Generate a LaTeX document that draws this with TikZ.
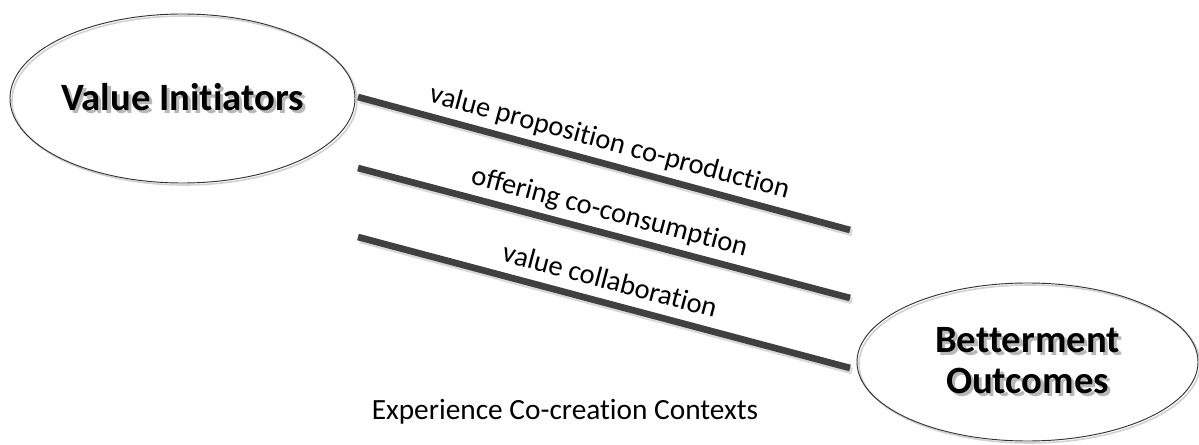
\documentclass[tikz,border=0pt]{standalone}
\usepackage{fontspec}
\setmainfont{Carlito}[Ligatures=NoCommon]
% text with a grey drop shadow set behind it, inside one box
\newcommand\shadowtext[1]{\makebox[0pt][l]{\kern2.4pt\raisebox{-2.4pt}{\color{black!28}#1}}#1}
\begin{document}
\begin{tikzpicture}[x=0.75pt,y=-0.75pt,
  oval/.style={draw=black!80, line width=0.7pt},
  ovalshadow/.style={draw=black!18, line width=1.2pt},
  title/.style={font=\bfseries\fontsize{29}{31}\selectfont, align=center, inner sep=0pt},
  bar/.style={draw=black!75, line width=5pt},
  barshadow/.style={draw=black!15, line width=5pt},
  barlabel/.style={font=\fontsize{21.4}{24}\selectfont, sloped, midway, above=5.5pt,
    inner sep=0pt, text height=0.72em, text depth=0.22em},
  caption/.style={font=\fontsize{22}{24}\selectfont, inner sep=0pt}]
  \useasboundingbox (0,0) rectangle (1199,445);
  \clip (0,0) rectangle (1199,445);

  % the two ovals
  \coordinate (vic) at (182.5,98.5);
  \coordinate (boc) at (1027.5,362);
  \draw[ovalshadow] ([shift={(2,2)}]vic) ellipse (172.5 and 84.5);
  \draw[oval] (vic) ellipse (172.5 and 84.5);
  \draw[ovalshadow] ([shift={(2,2)}]boc) ellipse (170.5 and 79);
  \draw[oval] (boc) ellipse (170.5 and 79);

  % titles
  \node[title] (vi) at (vic) {\shadowtext{Value Initiators}};
  \node[title] (bo) at (boc) {\shadowtext{Betterment}\\\shadowtext{Outcomes}};

  % the three context bars
  \coordinate (a1) at (358,97);  \coordinate (b1) at (850,230);
  \coordinate (a2) at (358,168); \coordinate (b2) at (850,298);
  \coordinate (a3) at (358,237); \coordinate (b3) at (850,368);
  \foreach \i in {1,2,3}
    \draw[barshadow] ([shift={(2,3)}]a\i) -- ([shift={(2,3)}]b\i);
  \draw[bar] (a1) -- (b1) node[barlabel] (l1) {value proposition co-production};
  \draw[bar] (a2) -- (b2) node[barlabel] (l2) {offering co-consumption};
  \draw[bar] (a3) -- (b3) node[barlabel] (l3) {value collaboration};

  \node[caption] (cap) at (565,412) {Experience Co-creation Contexts};
\end{tikzpicture}
\end{document}
